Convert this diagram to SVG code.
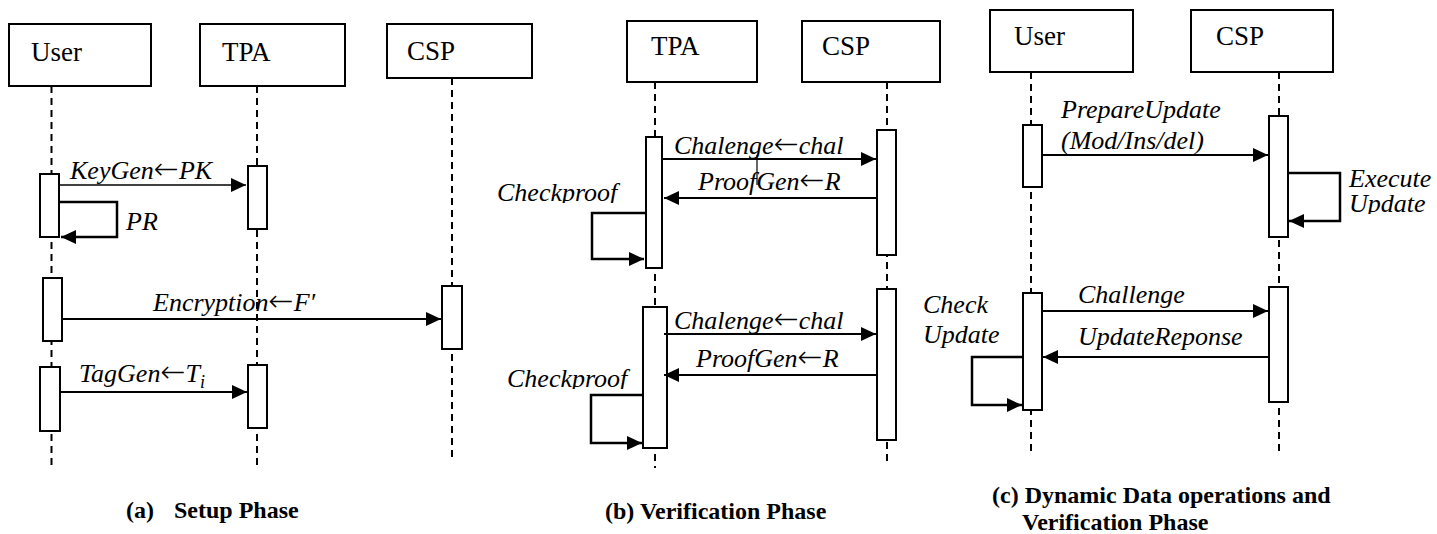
<svg xmlns="http://www.w3.org/2000/svg" width="1437" height="534" viewBox="0 0 1437 534">
<style>
  .box{fill:#fff;stroke:#000;stroke-width:2}
  .act{fill:#fff;stroke:#000;stroke-width:2}
  .life{stroke:#000;stroke-width:2;stroke-dasharray:7,5;fill:none}
  .msg{stroke:#000;stroke-width:2;fill:none}
  .thin{stroke:#000;stroke-width:1.3;fill:none}
  .loop{stroke:#000;stroke-width:2.5;fill:none}
  .name{font-size:27px;fill:#000}
  .lbl{font-size:26px;font-style:italic;fill:#000}
  .arr{font-family:"DejaVu Sans",sans-serif;font-style:normal;font-weight:200;font-size:30px}
  .cap{font-size:24px;font-weight:bold;fill:#000}
</style>
<defs>
  <marker id="ah" markerUnits="userSpaceOnUse" markerWidth="16" markerHeight="14" refX="15" refY="7" orient="auto">
    <path d="M0,0 L15,7 L0,14 z" fill="#000"/>
  </marker>
  <clipPath id="clipB1"><rect x="480" y="170" width="160" height="33"/></clipPath>
  <clipPath id="clipB2"><rect x="480" y="355" width="160" height="34"/></clipPath>
  <clipPath id="clipC1"><rect x="1340" y="190" width="97" height="24"/></clipPath>
</defs>

<g font-family="Liberation Serif, DejaVu Serif, serif">
<!-- Lifelines -->
<g id="lifelines">
  <line class="life" x1="51.5" y1="86" x2="51.5" y2="468"/>
  <line class="life" x1="257" y1="86" x2="257" y2="468"/>
  <line class="life" x1="452" y1="78" x2="452" y2="460"/>
  <line class="life" x1="655" y1="82" x2="655" y2="468"/>
  <line class="life" x1="887" y1="82" x2="887" y2="463"/>
  <line class="life" x1="1031" y1="72" x2="1031" y2="453"/>
  <line class="life" x1="1279" y1="72" x2="1279" y2="453"/>
</g>

<!-- Panel (a) nodes -->
<g id="a-user"><rect class="box" x="9" y="24" width="142" height="62"/><text class="name" x="31" y="61">User</text></g>
<g id="a-tpa"><rect class="box" x="200" y="24" width="145" height="62"/><text class="name" x="222" y="61">TPA</text></g>
<g id="a-csp"><rect class="box" x="387" y="24" width="145" height="54"/><text class="name" x="407" y="60">CSP</text></g>

<g id="a-activations">
  <rect class="act" x="40" y="174" width="19" height="63"/>
  <rect class="act" x="248" y="166" width="19" height="63"/>
  <rect class="act" x="43" y="278" width="19" height="63"/>
  <rect class="act" x="442" y="286" width="20" height="63"/>
  <rect class="act" x="40" y="367" width="20" height="64"/>
  <rect class="act" x="248" y="365" width="19" height="63"/>
</g>

<!-- Panel (b) nodes -->
<g id="b-tpa"><rect class="box" x="627" y="21" width="130" height="61"/><text class="name" x="651" y="55">TPA</text></g>
<g id="b-csp"><rect class="box" x="802" y="21" width="138" height="61"/><text class="name" x="822" y="55">CSP</text></g>

<g id="b-activations">
  <rect class="act" x="646" y="137" width="16" height="131"/>
  <rect class="act" x="877" y="130" width="19" height="125"/>
  <rect class="act" x="643" y="307" width="24" height="141"/>
  <rect class="act" x="877" y="289" width="19" height="151"/>
</g>

<!-- Panel (c) nodes -->
<g id="c-user"><rect class="box" x="990" y="10" width="143" height="62"/><text class="name" x="1014" y="45">User</text></g>
<g id="c-csp"><rect class="box" x="1191" y="10" width="142" height="62"/><text class="name" x="1216" y="45">CSP</text></g>

<g id="c-activations">
  <rect class="act" x="1023" y="125" width="19" height="62"/>
  <rect class="act" x="1269" y="116" width="19" height="121"/>
  <rect class="act" x="1023" y="293" width="19" height="117"/>
  <rect class="act" x="1269" y="287" width="19" height="115"/>
</g>

<!-- Connectors -->
<g id="connectors">
  <line class="thin" x1="59" y1="185" x2="246" y2="185" marker-end="url(#ah)"/>
  <polyline class="loop" points="59,202 117,202 117,237 61,237" marker-end="url(#ah)"/>
  <line class="msg" x1="62" y1="319" x2="441" y2="319" marker-end="url(#ah)"/>
  <line class="msg" x1="60" y1="392" x2="247" y2="392" marker-end="url(#ah)"/>
  <line class="msg" x1="662" y1="159" x2="876" y2="159" marker-end="url(#ah)"/>
  <line class="msg" x1="878" y1="198" x2="664" y2="198" marker-end="url(#ah)"/>
  <polyline class="loop" points="646,213 592,213 592,259 644,259" marker-end="url(#ah)"/>
  <line class="msg" x1="664" y1="334" x2="876" y2="334" marker-end="url(#ah)"/>
  <line class="msg" x1="876" y1="375" x2="664" y2="375" marker-end="url(#ah)"/>
  <polyline class="loop" points="643,395 591,395 591,443 642,443" marker-end="url(#ah)"/>
  <line class="msg" x1="1042" y1="155" x2="1268" y2="155" marker-end="url(#ah)"/>
  <polyline class="loop" points="1288,173 1340,173 1340,221 1289,221" marker-end="url(#ah)"/>
  <line class="msg" x1="1042" y1="311" x2="1268" y2="311" marker-end="url(#ah)"/>
  <line class="msg" x1="1269" y1="357" x2="1043" y2="357" marker-end="url(#ah)"/>
  <polyline class="loop" points="1023,357 972,357 972,405 1022,405" marker-end="url(#ah)"/>
</g>

<line x1="757" y1="155" x2="757" y2="185" stroke="#000" stroke-width="1.2"/>

<!-- Message labels -->
<g id="labels">
  <text class="lbl" x="70" y="179">KeyGen<tspan class="arr">←</tspan>PK</text>
  <text class="lbl" x="126" y="230">PR</text>
  <text class="lbl" x="153" y="311">Encryption<tspan class="arr">←</tspan>F′</text>
  <text class="lbl" x="79" y="382">TagGen<tspan class="arr">←</tspan>T<tspan font-size="18" dy="6">i</tspan></text>

  <text class="lbl" x="674" y="154">Chalenge<tspan class="arr">←</tspan>chal</text>
  <text class="lbl" x="698" y="190">ProofGen<tspan class="arr">←</tspan>R</text>
  <text class="lbl" x="497" y="201" clip-path="url(#clipB1)">Checkproof</text>
  <text class="lbl" x="674" y="329">Chalenge<tspan class="arr">←</tspan>chal</text>
  <text class="lbl" x="696" y="367">ProofGen<tspan class="arr">←</tspan>R</text>
  <text class="lbl" x="507" y="387" clip-path="url(#clipB2)">Checkproof</text>

  <text class="lbl" x="1061" y="118">PrepareUpdate</text>
  <text class="lbl" x="1061" y="149">(Mod/Ins/del)</text>
  <text class="lbl" x="1349" y="187">Execute</text>
  <text class="lbl" x="1349" y="212" clip-path="url(#clipC1)">Update</text>
  <text class="lbl" x="1078" y="303">Challenge</text>
  <text class="lbl" x="1078" y="345">UpdateReponse</text>
  <text class="lbl" x="923" y="313">Check</text>
  <text class="lbl" x="923" y="343">Update</text>
</g>

<!-- Captions -->
<g id="captions">
  <text class="cap" x="126" y="518">(a)</text>
  <text class="cap" x="174" y="518">Setup Phase</text>
  <text class="cap" x="605" y="519">(b) Verification Phase</text>
  <text class="cap" x="992" y="503">(c) Dynamic Data operations and</text>
  <text class="cap" x="1022" y="530">Verification Phase</text>
</g>
</g>
</svg>
